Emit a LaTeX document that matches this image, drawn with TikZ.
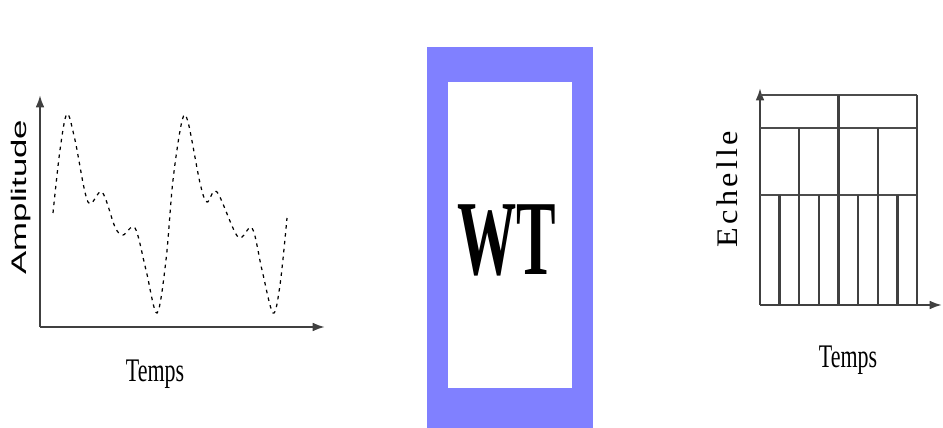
\documentclass[tikz,border=0pt]{standalone}
\usepackage{fontspec}
\setmainfont{Liberation Serif}
\newfontfamily\ampfont{Liberation Sans}
\usepackage{graphicx}
\usetikzlibrary{arrows.meta}
\definecolor{wtblue}{RGB}{128,128,255}
\tikzset{
  axis/.style={draw=black!75,line width=1.2pt,-{Latex[length=7pt,width=5pt]}},
  scaleline/.style={draw=black!70,line width=1.6pt},
  tickline/.style={draw=black!75,line width=1.3pt},
  signal/.style={black,line width=0.7pt,dash pattern=on 2pt off 2.5pt},
  lbl/.style={font=\fontsize{12.5}{14}\selectfont,inner sep=0pt}
}
\begin{document}
\begin{tikzpicture}[x=0.02cm,y=-0.02cm]
  \useasboundingbox (0,0) rectangle (943,428);
  \coordinate (o1) at (40,327);
  \draw[axis] (o1) -- (40,95);
  \draw[axis] (o1) -- (325,327);
  \draw[signal] plot[smooth,tension=0.55] coordinates {(53,213) (60,150) (67,114) (75,140) (88,202) (102,192) (115,227) (123,235) (135,228) (146,270) (157,313) (166,260) (173,180) (182,121) (188,122) (200,183) (207,202) (217,192) (238,237) (252,228) (262,270) (273,313) (280,285) (287,218)};
  \node[rotate=90,inner sep=0pt,font=\ampfont\fontsize{12}{14}\selectfont] (ampl) at (21,197) {\scalebox{1.65}[1]{Amplitude}};
  \node[lbl,anchor=base] (temps1) at (155,382) {\scalebox{1}[1.5]{Temps}};
  \fill[wtblue] (427,47) rectangle (593,428);
  \fill[white] (448,82) rectangle (572,388);
  \node[inner sep=0pt,anchor=base,font=\fontsize{33.7}{36}\selectfont\bfseries] (wt) at (507,275) {\scalebox{1}[1.8]{WT}};
  \coordinate (o2) at (760,305);
  \draw[axis] (o2) -- (760,88);
  \draw[axis] (o2) -- (942,305);
  \foreach \y in {95,128,195}
    \draw[scaleline] (760,\y) -- (917,\y);
  \foreach \x in {838.5,917}
    \draw[tickline] (\x,95) -- (\x,305);
  \foreach \x in {799.25,877.75}
    \draw[tickline] (\x,128) -- (\x,305);
  \foreach \x in {779.6,818.9,858,897.4}
    \draw[tickline] (\x,195) -- (\x,305);
  \node[rotate=90,inner sep=0pt,font=\fontsize{17}{19}\selectfont\addfontfeature{LetterSpace=10}] (echelle) at (727,189) {\scalebox{1.08}[1]{Echelle}};
  \node[lbl,anchor=base] (temps2) at (848,368) {\scalebox{1}[1.5]{Temps}};
\end{tikzpicture}
\end{document}
